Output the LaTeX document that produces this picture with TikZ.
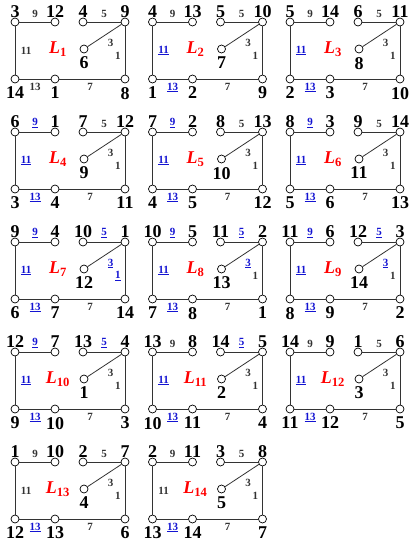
\documentclass[tikz,border=0pt]{standalone}
\usepackage{fontspec}
\setmainfont{Liberation Serif}
\usepackage{xcolor}
\definecolor{labblue}{RGB}{20,20,210}

\tikzset{
  vert/.style={circle,draw,fill=white,inner sep=0pt,minimum size=8pt,line width=0.7pt},
  vtop/.style={font=\fontsize{18}{18}\selectfont\bfseries,inner sep=0pt},
  vbot/.style={font=\fontsize{18}{18}\selectfont\bfseries,inner sep=0pt,yshift=-3.5pt},
  elab/.style={font=\fontsize{11}{11}\selectfont\bfseries,inner sep=3pt},
  edge/.style={line width=0.8pt,black!80},
  gname/.style={font=\fontsize{18}{18}\selectfont\bfseries,text=red}
}

% label formats: plain or blue underlined
\newcommand{\blk}[1]{#1}
\newcommand{\blu}[1]{\textcolor{labblue}{\underline{#1}}}

% #1 index, #2 column, #3 row, #4..#9 formats of labels 9,5,11,3,1,13
\newcommand{\lgraph}[9]{%
  \pgfmathtruncatemacro{\ntl}{mod(#1+1,14)+1}%
  \pgfmathtruncatemacro{\ntm}{mod(#1+10,14)+1}%
  \pgfmathtruncatemacro{\ntq}{mod(#1+2,14)+1}%
  \pgfmathtruncatemacro{\ntr}{mod(#1+7,14)+1}%
  \pgfmathtruncatemacro{\nin}{mod(#1+4,14)+1}%
  \pgfmathtruncatemacro{\nbl}{mod(#1+12,14)+1}%
  \pgfmathtruncatemacro{\nbm}{mod(#1-1,14)+1}%
  \pgfmathtruncatemacro{\nbr}{mod(#1+6,14)+1}%
  \begin{scope}[shift={(15+137.5*#2,22+110*#3)}]
    \node[vert,label={[vtop]above:\ntl}] (tl#1) at (0,0) {};
    \node[vert,label={[vtop]above:\ntm}] (tm#1) at (40,0) {};
    \node[vert,label={[vtop]above:\ntq}] (tq#1) at (68,0) {};
    \node[vert,label={[vtop]above:\ntr}] (tr#1) at (110,0) {};
    \node[vert,label={[vbot]below:\nin}] (in#1) at (69,27) {};
    \node[vert,label={[vbot]below:\nbl}] (bl#1) at (0,57) {};
    \node[vert,label={[vbot]below:\nbm}] (bm#1) at (40,57) {};
    \node[vert,label={[vbot]below:\nbr}] (br#1) at (110,57) {};
    \node[gname] (g#1) at (43,27) {\itshape L\textsubscript{\upshape#1}};
    \draw[edge] (tl#1) -- node[above=0.5pt,elab] {#4{9}} (tm#1);
    \draw[edge] (tq#1) -- node[above=0.5pt,elab] {#5{5}} (tr#1);
    \draw[edge] (tr#1) -- node[midway,anchor=north west,elab] {#7{3}} (in#1);
    \draw[edge] (tr#1) -- node[pos=0.62,left=1pt,elab] {#8{1}} (br#1);
    \draw[edge] (br#1) -- node[below=0.5pt,elab] {\blk{7}} (bm#1);
    \draw[edge] (bm#1) -- node[below=0.5pt,elab] {#9{13}} (bl#1);
    \draw[edge] (bl#1) -- node[right=2.5pt,elab] {#6{11}} (tl#1);
  \end{scope}}

\begin{document}
\begin{tikzpicture}[x=1pt,y=-1pt]
  \useasboundingbox (0,0) rectangle (415,544);
  \lgraph{1}{0}{0}{\blk}{\blk}{\blk}{\blk}{\blk}{\blk}
  \lgraph{2}{1}{0}{\blk}{\blk}{\blu}{\blk}{\blk}{\blu}
  \lgraph{3}{2}{0}{\blk}{\blk}{\blu}{\blk}{\blk}{\blu}
  \lgraph{4}{0}{1}{\blu}{\blk}{\blu}{\blk}{\blk}{\blu}
  \lgraph{5}{1}{1}{\blu}{\blk}{\blu}{\blk}{\blk}{\blu}
  \lgraph{6}{2}{1}{\blu}{\blk}{\blu}{\blk}{\blk}{\blu}
  \lgraph{7}{0}{2}{\blu}{\blu}{\blu}{\blu}{\blu}{\blu}
  \lgraph{8}{1}{2}{\blu}{\blu}{\blu}{\blu}{\blk}{\blu}
  \lgraph{9}{2}{2}{\blu}{\blu}{\blu}{\blu}{\blk}{\blu}
  \lgraph{10}{0}{3}{\blu}{\blu}{\blu}{\blk}{\blk}{\blu}
  \lgraph{11}{1}{3}{\blk}{\blu}{\blu}{\blk}{\blk}{\blu}
  \lgraph{12}{2}{3}{\blk}{\blk}{\blu}{\blk}{\blk}{\blu}
  \lgraph{13}{0}{4}{\blk}{\blk}{\blk}{\blk}{\blk}{\blu}
  \lgraph{14}{1}{4}{\blk}{\blk}{\blk}{\blk}{\blk}{\blu}
\end{tikzpicture}
\end{document}
